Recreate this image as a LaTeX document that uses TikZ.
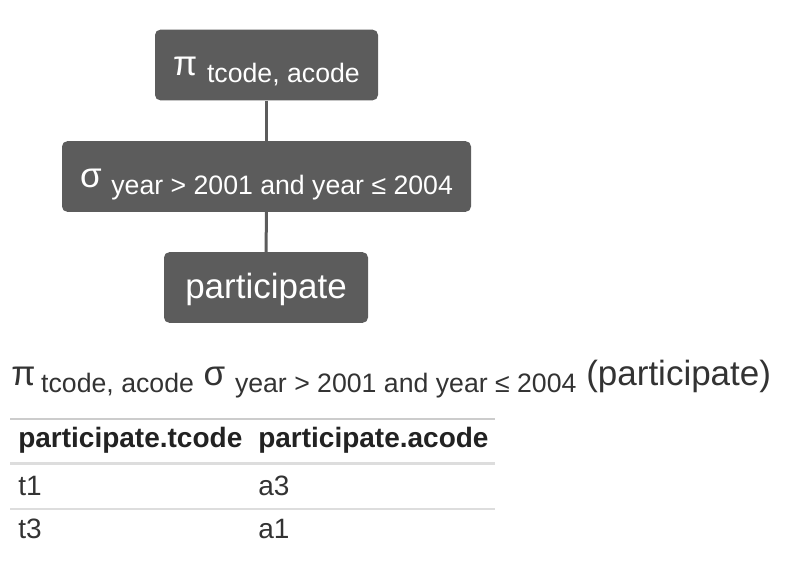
\documentclass[tikz,border=0pt]{standalone}
\usepackage{fontspec}
\setmainfont{Liberation Sans}
\usetikzlibrary{positioning}
\definecolor{raBox}{HTML}{5C5C5C}
\definecolor{raInk}{HTML}{333333}
\definecolor{raHead}{HTML}{222222}
\definecolor{raRule}{HTML}{DDDDDD}
\definecolor{raTopRule}{HTML}{CCCCCC}
\newcommand{\raBig}{\fontsize{26.25pt}{30pt}\selectfont}
\newcommand{\raSub}[1]{\raisebox{-5.25pt}{\fontsize{20pt}{22pt}\selectfont #1}}
\newcommand{\raCell}{\fontsize{21pt}{24pt}\selectfont}
\tikzset{
  opbox/.style={fill=raBox, text=white, rounded corners=4pt, minimum height=53pt, inner sep=0pt,
    text height=20pt, text depth=3.5pt, font=\raBig},
  link/.style={draw=raBox, line width=2.25pt},
  cell/.style={anchor=base west, inner sep=0pt, text=raInk, font=\raCell},
  hcell/.style={cell, text=raHead, font=\raCell\bfseries},
}

\begin{document}
\begin{tikzpicture}[x=0.75pt,y=-0.75pt]
  \useasboundingbox (0,0) rectangle (794,588);
  % operator tree
  \node[opbox, minimum width=167.25pt] (proj) at (266.5,65) {π \raSub{tcode, acode}};
  \node[opbox, minimum width=306.75pt] (sel) at (266.5,176.5) {σ \raSub{year > 2001 and year ≤ 2004}};
  \node[opbox, minimum width=153pt] (rel) at (266,287.5) {participate};
  \draw[link] (proj) -- (sel);
  \draw[link] (sel) -- (rel);
  % expression
  \node[anchor=base west, inner sep=0pt, text=raInk, font=\raBig] (expr) at (11,386)
    {π\,\raSub{tcode, acode} σ \raSub{year > 2001 and year ≤ 2004} (participate)};
  % result table
  \draw[raTopRule, line width=1.125pt] (10,419) -- (495,419);
  \draw[raRule, line width=2.25pt] (10,464) -- (495,464);
  \draw[raRule, line width=1.125pt] (10,509) -- (495,509);
  \node[hcell] (hTcode) at (18,448) {participate.tcode};
  \node[hcell] (hAcode) at (258,448) {participate.acode};
  \foreach \t/\a/\y in {t1/a3/495, t3/a1/538} {
    \node[cell] (c\t) at (18,\y) {\t};
    \node[cell] (c\a) at (258,\y) {\a};
  }
\end{tikzpicture}
\end{document}
